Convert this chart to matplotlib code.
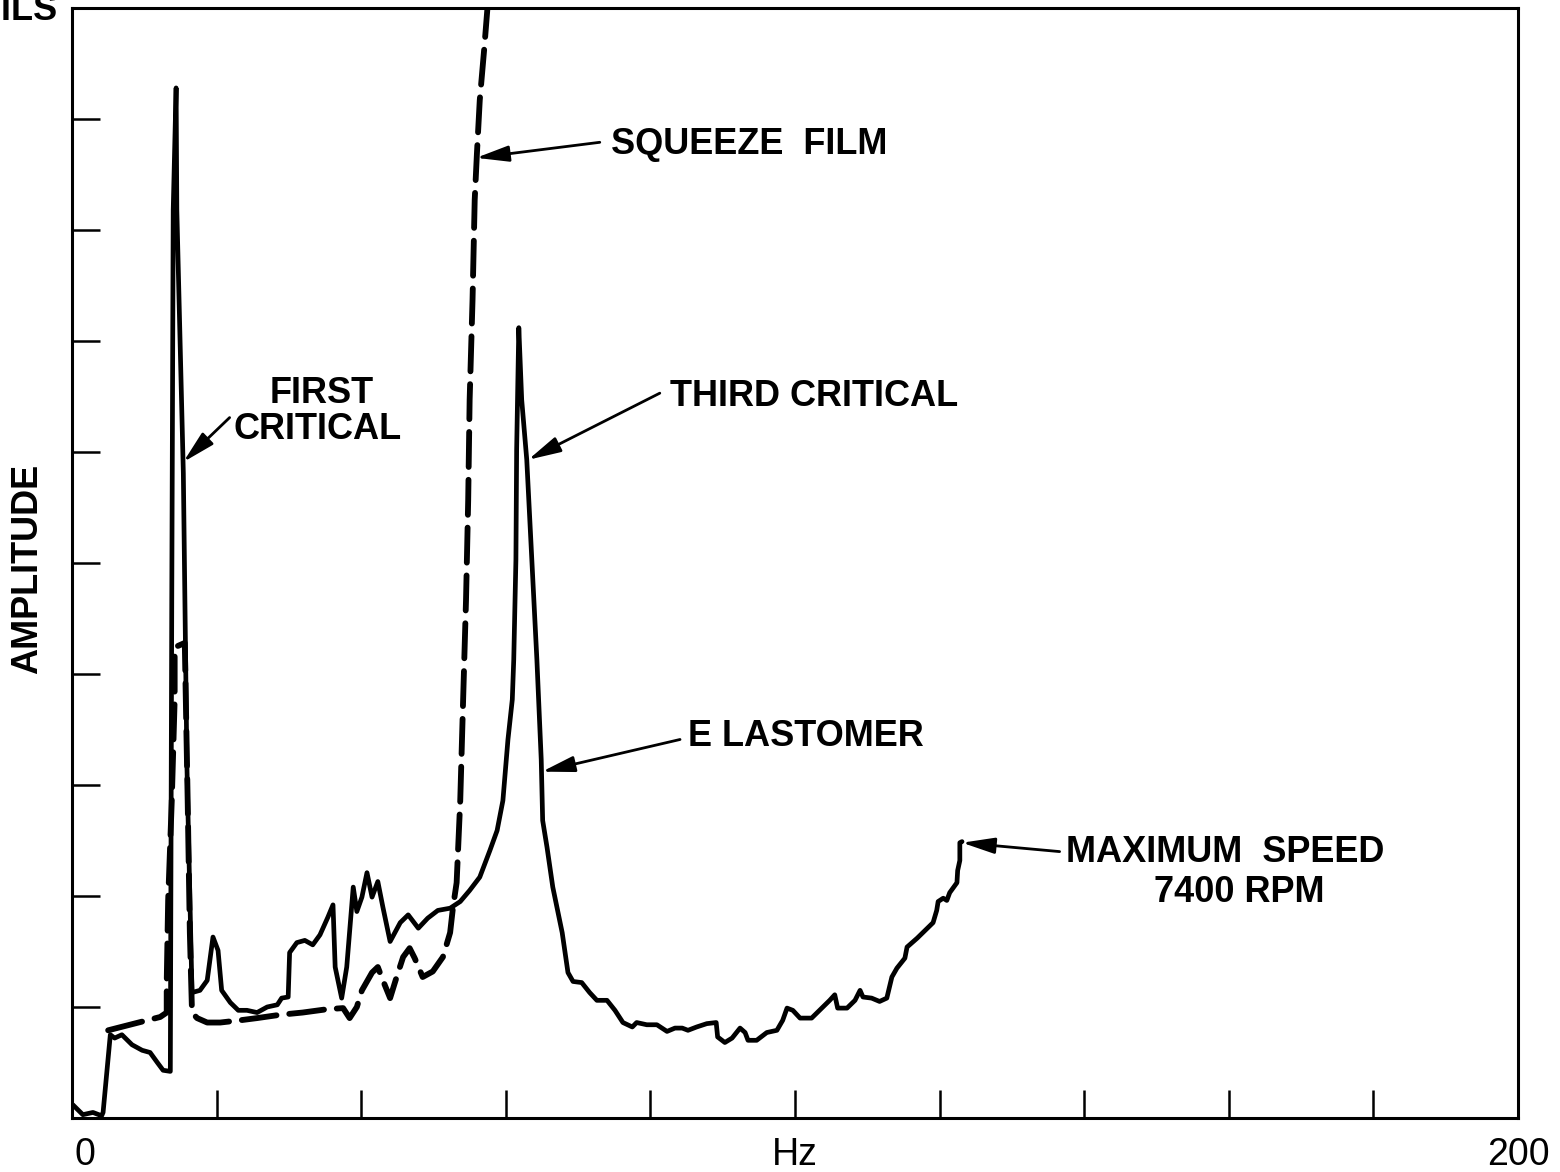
import matplotlib
matplotlib.use("Agg")
import matplotlib.pyplot as plt
import matplotlib.transforms as mtransforms

# ---- data (Hz, amplitude in mils) ----
elastomer_hz = [0.1, 1.5, 2.9, 4.1, 4.3, 5.3, 5.9, 6.9, 8.3, 9.7, 10.8, 11.8, 12.6, 13.6,
                13.8, 14.0, 14.4, 14.5, 15.4, 15.9, 16.6,
                17.7, 18.7, 19.5, 20.2, 20.7, 21.9, 23.0, 24.2, 25.6, 27.0, 28.4, 29.0, 29.9,
                30.1, 31.1, 32.2, 33.3, 34.3, 35.4, 36.1, 36.4, 37.3, 38.0, 38.9, 39.4, 40.1,
                40.8, 41.5, 42.3, 43.0, 44.0, 45.4, 46.5, 47.9, 49.2, 50.6, 52.3, 53.7, 55.0,
                56.4, 57.8, 58.8, 59.6, 60.3, 60.9, 61.1, 61.4, 61.5, 61.8,
                62.2, 62.9, 63.6, 64.3, 64.9, 65.1, 65.7, 66.5, 67.8, 68.6, 69.3, 70.5, 71.6,
                72.6, 74.0, 75.1, 76.2, 77.5, 78.1, 79.5, 80.9, 82.3, 83.4, 84.4, 85.2, 86.4,
                87.8, 89.1, 89.3, 90.3, 91.3, 92.4, 93.1, 93.5, 94.7, 96.1, 97.5, 98.3, 98.9,
                99.7, 100.7, 102.3, 103.4, 104.8, 105.5, 105.9, 107.2, 108.3, 109.0, 109.4,
                110.6, 111.7, 112.7, 113.4, 114.1, 115.2, 115.5, 116.9, 118.0, 119.1, 119.6,
                119.8, 120.5, 121.0, 121.4, 122.4, 122.5, 122.8, 122.8, 123.1]
elastomer_amp = [0.12, 0.03, 0.05, 0.02, 0.05, 0.75, 0.72, 0.75, 0.66, 0.61, 0.59, 0.50, 0.43, 0.42,
                 4.67, 8.18, 9.28, 8.18, 5.81, 3.16, 1.13,
                 1.15, 1.24, 1.63, 1.51, 1.15, 1.04, 0.97, 0.97, 0.95, 1.00, 1.02, 1.08, 1.09,
                 1.49, 1.58, 1.60, 1.56, 1.65, 1.81, 1.92, 1.36, 1.08, 1.36, 2.08, 1.86, 1.99,
                 2.21, 1.99, 2.13, 1.90, 1.59, 1.76, 1.83, 1.71, 1.80, 1.87, 1.89, 1.95, 2.05,
                 2.17, 2.41, 2.59, 2.86, 3.41, 3.77, 4.13, 5.03, 6.02, 7.12,
                 6.47, 5.93, 5.03, 4.13, 3.23, 2.68, 2.44, 2.08, 1.67, 1.31, 1.23, 1.22, 1.13,
                 1.06, 1.06, 0.97, 0.86, 0.82, 0.86, 0.84, 0.84, 0.78, 0.81, 0.81, 0.79, 0.82,
                 0.85, 0.86, 0.73, 0.68, 0.72, 0.81, 0.77, 0.70, 0.70, 0.77, 0.79, 0.88, 0.99,
                 0.97, 0.90, 0.90, 0.97, 1.06, 1.11, 0.99, 0.99, 1.06, 1.15, 1.09,
                 1.08, 1.05, 1.08, 1.27, 1.35, 1.44, 1.54, 1.62, 1.69, 1.76, 1.87,
                 1.95, 1.98, 1.96, 2.03, 2.12, 2.23, 2.32, 2.48, 2.49]

squeeze_hz = [5.0, 12.2, 13.1, 13.1, 13.3, 13.8, 14.2, 14.2, 15.6, 16.0, 16.3, 16.6, 17.3,
              18.7, 20.5, 23.2, 25.6, 28.8, 31.9, 35.3, 37.5, 38.4, 39.4, 40.1, 41.5, 42.3,
              43.0, 44.0, 44.9, 45.8, 46.7, 47.4, 48.5, 49.9, 51.3, 52.3, 52.7, 53.2, 53.7,
              54.1, 54.5, 54.8, 55.0, 55.4, 55.7, 56.0, 56.4, 57.0, 57.5]
squeeze_amp = [0.79, 0.91, 0.95, 1.22, 1.96, 2.86, 3.77, 4.24, 4.28, 2.86, 1.67, 0.95, 0.90,
               0.86, 0.86, 0.88, 0.90, 0.93, 0.95, 0.98, 0.99, 0.90, 1.00, 1.15, 1.31, 1.36,
               1.24, 1.08, 1.27, 1.45, 1.53, 1.44, 1.27, 1.32, 1.45, 1.67, 1.90, 2.12, 2.86,
               3.77, 4.67, 5.57, 6.47, 7.37, 8.27, 8.68, 9.17, 9.62, 10.03]

x_ticks = [0, 20, 40, 60, 80, 100, 120, 140, 160, 180, 200]
x_tick_labels = ["0", "", "", "", "", "Hz", "", "", "", "", "200"]
y_ticks = [1, 2, 3, 4, 5, 6, 7, 8, 9]

FONT = ["Liberation Sans", "DejaVu Sans"]
plt.rcParams["font.family"] = FONT

fig = plt.figure(figsize=(15.6, 11.72), dpi=100)
ax = fig.add_axes([0.04615, 0.04608, 0.92692, 0.94710])

ax.plot(elastomer_hz, elastomer_amp, color="black", lw=3.4, solid_joinstyle="round",
        solid_capstyle="round")
ax.plot(squeeze_hz, squeeze_amp, color="black", lw=4.2, dashes=(6, 2.2),
        dash_capstyle="round", dash_joinstyle="round")

ax.set_xlim(0, 200)
ax.set_ylim(0, 10)
ax.set_xticks(x_ticks)
ax.set_xticklabels(x_tick_labels, fontsize=27)
ax.set_yticks(y_ticks)
ax.set_yticklabels([])
ax.tick_params(axis="both", direction="in", length=20, width=1.8, color="black")
ax.tick_params(axis="x", pad=14)
lbl0 = ax.get_xticklabels()[0]
lbl0.set_transform(lbl0.get_transform() +
                   mtransforms.ScaledTranslation(0.13, 0, fig.dpi_scale_trans))
for s in ax.spines.values():
    s.set_linewidth(2.2)

# axis labels
ax.text(-0.031, 0.495, "AMPLITUDE", transform=ax.transAxes, rotation=90,
        ha="center", va="center", fontsize=26, fontweight="bold")
fig.text(58 / 1560, 1 - 20 / 1172, "MILS", ha="right", va="baseline",
         fontsize=26, fontweight="bold")

arrow = dict(arrowstyle="-|>,head_length=0.9,head_width=0.22", color="black",
             lw=2.0, shrinkA=0, shrinkB=0, mutation_scale=22)
tf = dict(fontsize=26, fontweight="bold", color="black")

# FIRST CRITICAL
ax.annotate("", xy=(15.4, 5.91), xytext=(21.8, 6.31), arrowprops=arrow)
ax.text(34.6, 6.53, "FIRST", ha="center", va="center", **tf)
ax.text(34.0, 6.20, "CRITICAL", ha="center", va="center", **tf)

# SQUEEZE FILM
ax.annotate("", xy=(55.9, 8.65), xytext=(73.0, 8.79), arrowprops=arrow)
ax.text(74.5, 8.77, "SQUEEZE  FILM", ha="left", va="center", **tf)

# THIRD CRITICAL
ax.annotate("", xy=(63.1, 5.93), xytext=(81.3, 6.53), arrowprops=arrow)
ax.text(82.7, 6.50, "THIRD CRITICAL", ha="left", va="center", **tf)

# ELASTOMER
ax.annotate("", xy=(65.0, 3.12), xytext=(84.1, 3.41), arrowprops=arrow)
ax.text(85.2, 3.44, "E LASTOMER", ha="left", va="center", **tf)

# MAXIMUM SPEED
ax.annotate("", xy=(123.1, 2.48), xytext=(136.6, 2.40), arrowprops=arrow)
ax.text(137.5, 2.39, "MAXIMUM  SPEED", ha="left", va="center", **tf)
ax.text(161.5, 2.03, "7400 RPM", ha="center", va="center", **tf)

fig.savefig("out.png", dpi=100, facecolor="white")
